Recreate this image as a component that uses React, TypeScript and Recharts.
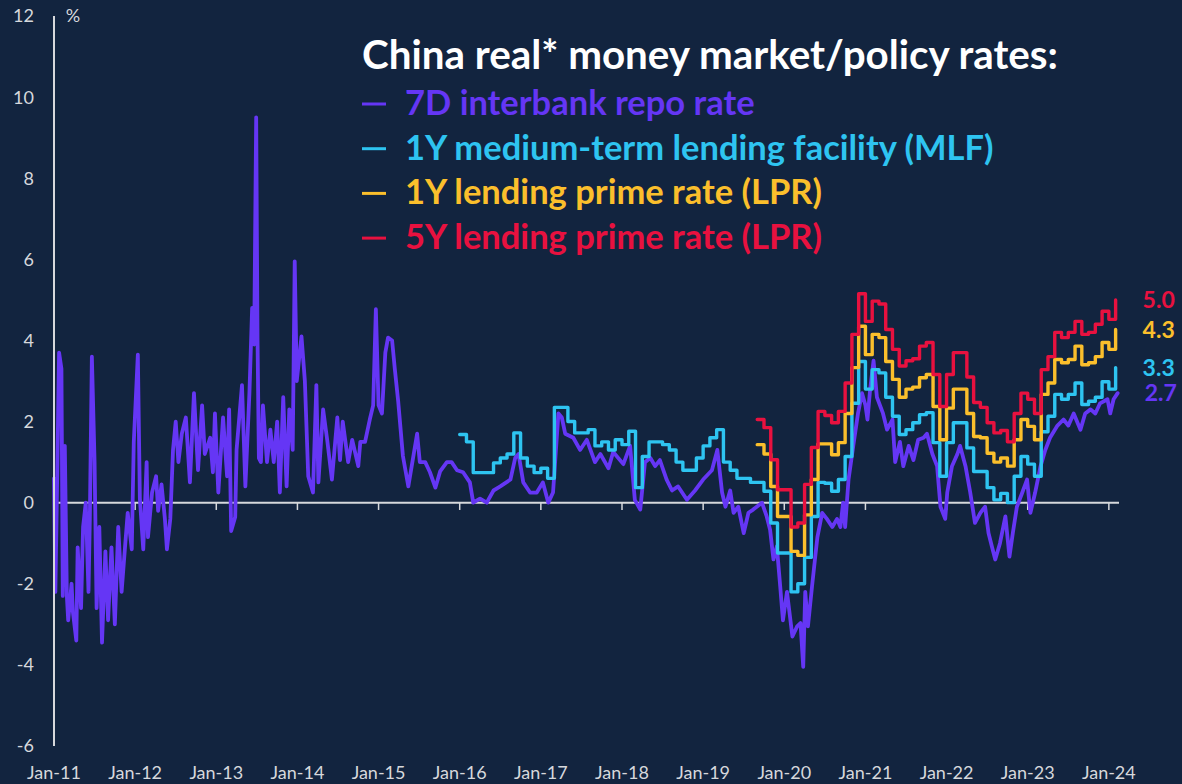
import React from "react";
import { LineChart, Line, XAxis, YAxis, ReferenceLine, Legend } from "recharts";

// x values are months since Jan-11
const YEAR_TICKS = [0, 12, 24, 36, 48, 60, 72, 84, 96, 108, 120, 132, 144, 156];
const Y_TICKS = [-6, -4, -2, 0, 2, 4, 6, 8, 10, 12];

// 7D interbank repo rate, real: [month, %]
const REPO: [number, number][] = [
  [0, 0.6], [0.2, -2.2], [0.45, 0.4], [0.75, 3.7], [1.1, 3.3], [1.3, -2.3], [1.6, 1.4], [1.9, -2.3],
  [2.1, -2.9], [2.6, -2.0], [2.8, -2.7], [3.3, -3.4], [3.5, -1.1], [4.0, -2.6], [4.3, -0.6], [4.7, 0.0],
  [5.1, -2.2], [5.3, -0.4], [5.6, 3.6], [6.0, 1.0], [6.3, -2.6], [6.7, -0.6], [7.1, -3.45], [7.6, -1.2],
  [8.0, -2.9], [8.5, -1.1], [9.0, -3.0], [9.5, -0.6], [10.0, -2.2], [10.5, -1.1], [10.9, -0.25], [11.5, -1.15],
  [11.8, 1.5], [12.4, 3.65], [12.7, 0.1], [13.2, -1.15], [13.7, 1.0], [13.9, -0.85], [14.5, 0.25], [15.1, 0.65],
  [15.4, -0.2], [15.9, 0.45], [16.4, -0.4], [16.7, -1.15], [17.2, -0.4], [17.6, 1.3], [18.0, 2.0], [18.4, 1.0],
  [18.9, 1.7], [19.5, 2.1], [20.1, 0.5], [20.7, 2.7], [21.3, 0.8], [21.9, 2.4], [22.3, 1.2], [23.1, 1.6],
  [23.5, 0.75], [23.8, 2.2], [24.3, 0.25], [25.0, 2.1], [25.6, 0.65], [25.9, 2.3], [26.2, -0.7], [26.8, -0.35],
  [27.0, 1.3], [27.8, 2.9], [28.3, 0.4], [28.9, 2.7], [29.3, 4.8], [29.6, 3.9], [29.9, 9.5], [30.1, 4.0],
  [30.3, 1.1], [30.6, 1.0], [30.9, 2.4], [31.5, 1.0], [32.0, 1.8], [32.5, 1.0], [33.0, 2.0], [33.4, 0.25],
  [33.9, 2.6], [34.4, 0.4], [34.8, 2.3], [35.3, 1.3], [35.6, 5.95], [35.9, 3.0], [36.6, 4.1], [37.1, 3.0],
  [37.6, 0.65], [38.3, 0.25], [38.8, 2.9], [39.1, 0.5], [39.8, 2.3], [40.4, 1.55], [41.1, 0.57], [41.9, 2.1],
  [42.3, 1.05], [42.7, 2.0], [43.5, 1.0], [44.1, 1.55], [45.0, 0.9], [45.3, 1.5], [46.0, 1.5], [46.7, 2.05],
  [47.2, 2.4], [47.6, 4.77], [48.0, 2.4], [48.5, 2.2], [49.0, 3.7], [49.4, 4.07], [50.0, 4.0], [50.4, 3.3],
  [50.9, 2.5], [51.6, 1.15], [52.4, 0.4], [52.9, 0.9], [53.7, 1.7], [54.1, 1.0], [54.9, 1.0], [55.6, 0.75],
  [56.4, 0.37], [57.1, 0.77], [58.1, 1.0], [58.8, 1.0], [59.6, 0.8], [60.5, 0.75], [61.5, 0.5], [62.0, 0.0],
  [63.0, 0.1], [64.0, 0.0], [65.0, 0.3], [66.0, 0.4], [67.5, 0.57], [68.2, 1.1], [68.7, 1.2], [69.4, 0.5],
  [70.4, 0.25], [71.4, 0.25], [72.3, 0.5], [73.1, 0.0], [73.8, 0.25], [74.6, 2.2], [75.1, 2.1], [75.6, 1.7],
  [76.8, 1.6], [77.8, 1.3], [78.8, 1.55], [80.0, 1.0], [80.8, 1.2], [82.0, 0.85], [82.7, 1.25], [84.2, 0.95],
  [85.2, 1.4], [85.9, 0.07], [86.7, -0.17], [87.4, 1.0], [88.2, 1.1], [88.9, 0.9], [89.6, 1.05], [90.6, 0.57],
  [91.4, 0.3], [92.3, 0.4], [93.6, 0.07], [94.8, 0.3], [96.0, 0.57], [97.3, 0.8], [98.1, 1.3], [98.8, 0.25],
  [99.3, -0.1], [100.0, 0.3], [100.5, -0.25], [101.2, -0.1], [102.0, -0.75], [102.7, -0.25], [103.4, -0.17], [104.7, 0.0],
  [105.4, -0.34], [105.9, -0.67], [106.4, -1.4], [106.9, -1.08], [107.4, -2.07], [107.8, -2.9], [108.4, -2.2], [109.2, -3.3],
  [109.9, -3.05], [110.4, -2.97], [110.8, -4.05], [111.1, -2.2], [111.5, -3.05], [112.1, -2.07], [112.6, -1.3], [112.9, -0.85],
  [113.6, -0.25], [114.3, -0.4], [115.1, -0.6], [115.8, -0.4], [116.3, -0.6], [116.7, 0.0], [117.0, -0.6], [117.5, 0.57],
  [118.2, 1.4], [118.9, 2.2], [119.5, 2.7], [120.0, 2.4], [120.3, 2.05], [120.7, 2.8], [121.2, 3.5], [121.7, 2.6],
  [122.6, 2.2], [123.2, 1.8], [124.0, 2.05], [124.4, 1.0], [125.1, 1.5], [125.6, 0.9], [126.4, 1.4], [127.1, 1.05],
  [127.8, 1.55], [128.6, 1.6], [129.1, 1.7], [129.9, 1.2], [130.6, 0.9], [131.1, -0.1], [131.8, -0.4], [132.1, 0.25],
  [132.8, 0.9], [133.6, 1.2], [134.0, 1.4], [134.8, 0.9], [135.5, 0.25], [136.2, -0.5], [137.0, -0.25], [137.7, -0.1],
  [138.2, -0.75], [138.7, -1.08], [139.2, -1.4], [139.9, -1.0], [140.7, -0.34], [141.3, -1.33], [141.8, -0.75], [142.4, -0.1],
  [143.2, 0.25], [143.9, 0.57], [144.4, -0.25], [145.1, 0.25], [145.9, 0.9], [146.6, 1.3], [147.3, 1.6], [148.4, 1.9],
  [149.3, 2.05], [150.0, 1.9], [150.8, 2.2], [151.8, 1.8], [152.5, 2.2], [153.3, 2.3], [154.0, 2.2], [154.7, 2.45],
  [155.8, 2.55], [156.2, 2.2], [156.7, 2.55], [157.3, 2.7],
];

// monthly step series
const MLF_START = 60; // Jan-16
const MLF = [
  1.68, 1.5, 0.74, 0.74, 0.74, 0.98, 1.1, 1.2, 1.72, 1.1, 0.9, 0.74,
  0.85, 0.6, 2.35, 2.35, 2.0, 1.72, 1.72, 1.8, 1.4, 1.5, 1.3, 1.55,
  1.43, 1.76, 0.37, 1.14, 1.5, 1.5, 1.43, 1.3, 1.0, 0.8, 0.8, 1.1,
  1.4, 1.6, 1.8, 1.0, 0.8, 0.6, 0.6, 0.5, 0.5, 0.28, -0.5, -1.24,
  -1.24, -2.2, -2.0, -1.35, -0.34, 0.5, 0.48, 0.28, 0.57, 1.14, 2.45, 3.48,
  2.8, 3.28, 3.2, 2.6, 2.13, 1.68, 1.8, 1.97, 2.17, 2.22, 1.48, 0.65,
  1.48, 1.97, 1.97, 1.35, 0.77, 0.77, 0.37, 0.07, 0.23, 0.0, 0.65, 1.14,
  0.95, 0.65, 1.75, 2.13, 2.67, 2.55, 2.67, 2.95, 2.42, 2.5, 2.6, 2.98,
  2.8, 3.33,
];

const LPR_START = 104; // Sep-19
const LPR1Y = [
  1.43, 1.2, 0.4, -0.34,
  -0.34, -1.2, -1.3, -0.3, 0.57, 1.45, 1.45, 1.18, 1.48, 2.2, 3.33, 4.35,
  3.65, 4.15, 4.07, 3.48, 3.04, 2.6, 2.8, 2.85, 3.08, 3.16, 2.37, 1.55,
  2.33, 2.8, 2.8, 2.2, 1.63, 1.6, 1.22, 1.0, 1.1, 0.9, 1.55, 2.05,
  1.88, 1.55, 2.67, 2.95, 3.53, 3.45, 3.53, 3.86, 3.4, 3.45, 3.6, 3.95,
  3.78, 4.27,
];
const LPR5Y = [
  2.05, 1.85, 1.06, 0.32,
  0.32, -0.6, -0.5, 0.45, 1.36, 2.25, 2.15, 1.97, 2.25, 2.95, 4.15, 5.15,
  4.47, 4.97, 4.9, 4.27, 3.78, 3.37, 3.5, 3.55, 3.86, 3.95, 3.16, 2.37,
  3.16, 3.7, 3.7, 3.1, 2.47, 2.35, 1.97, 1.72, 1.78, 1.5, 2.2, 2.7,
  2.55, 2.2, 3.28, 3.6, 4.2, 4.07, 4.2, 4.47, 4.15, 4.2, 4.4, 4.72,
  4.52, 5.0,
];

const TITLE = "China real* money market/policy rates:";
const BG = "#12243f";
const AXIS = "#d6d8dc";
const FONT = "Lato, 'Open Sans', sans-serif";

const monthly = (start: number, vals: number[]) => vals.map((v, i) => ({ m: start + i, v }));

const SERIES = [
  { name: "7D interbank repo rate", color: "#6536f5", type: "linear", width: 3.8, data: REPO.map(([m, v]) => ({ m, v })) },
  { name: "1Y medium-term lending facility (MLF)", color: "#2ec4f1", type: "stepAfter", width: 3.4, data: monthly(MLF_START, MLF) },
  { name: "1Y lending prime rate (LPR)", color: "#fbbf2c", type: "stepAfter", width: 3.4, data: monthly(LPR_START, LPR1Y) },
  { name: "5Y lending prime rate (LPR)", color: "#e8113f", type: "stepAfter", width: 3.4, data: monthly(LPR_START, LPR5Y) },
];
const ORDER = SERIES.map((s) => s.name);

const endLabel = (color: string, last: number) => (props: any) => {
  const { x, y, index, value } = props;
  if (index !== last) return null;
  return (
    <text x={x + 27} y={y} dy="0.35em" fill={color} fontSize={23} fontWeight={700} fontFamily={FONT}>
      {Number(value).toFixed(1)}
    </text>
  );
};

const renderLegend = ({ payload }: any) => {
  const items = [...(payload || [])].sort((a: any, b: any) => ORDER.indexOf(a.value) - ORDER.indexOf(b.value));
  return (
    <svg width={760} height={270} style={{ display: "block", overflow: "visible" }}>
      <text x={7} y={49} fill="#ffffff" fontSize={40} fontWeight={700} fontFamily={FONT} textLength={696} lengthAdjust="spacingAndGlyphs">
        {TITLE}
      </text>
      {items.map((p: any, i: number) => {
        const base = 95 + i * 44.7;
        return (
          <g key={p.value}>
            <line x1={7} x2={31} y1={base - 11} y2={base - 11} stroke={p.color} strokeWidth={3} />
            <text x={50} y={base} fill={p.color} fontSize={34.5} fontWeight={700} fontFamily={FONT}>
              {p.value}
            </text>
          </g>
        );
      })}
    </svg>
  );
};

export default function App() {
  return (
    <div style={{ width: 1182, height: 784, background: BG }}>
      <style>{`body{margin:0;background:${BG};}`}</style>
      <LineChart width={1182} height={784} margin={{ top: 16, right: 63, bottom: 8, left: 0 }}>
        <XAxis
          type="number"
          dataKey="m"
          domain={[0, 157.5]}
          ticks={YEAR_TICKS}
          interval={0}
          tickFormatter={(m: number) => `Jan-${11 + m / 12}`}
          axisLine={false}
          tickLine={false}
          tickSize={6}
          tickMargin={14}
          height={30}
          tick={{ fill: AXIS, fontSize: 18, fontFamily: FONT }}
        />
        <YAxis
          type="number"
          domain={[-6, 12]}
          ticks={Y_TICKS}
          interval={0}
          width={54}
          axisLine={{ stroke: AXIS, strokeWidth: 2 }}
          tickLine={false}
          tickSize={6}
          tickMargin={14}
          tick={{ fill: AXIS, fontSize: 18, fontFamily: FONT }}
          label={{
            content: ({ viewBox }: any) => (
              <text x={viewBox.x + viewBox.width + 19} y={viewBox.y} dy="0.35em" textAnchor="middle" fill={AXIS} fontSize={18} fontFamily={FONT}>
                %
              </text>
            ),
          }}
        />
        <ReferenceLine y={0} stroke={AXIS} strokeWidth={2} />
        {YEAR_TICKS.map((m) => (
          <ReferenceLine
            key={`tick-${m}`}
            segment={[{ x: m, y: 0 }, { x: m, y: -0.18 }]}
            stroke={AXIS}
            strokeWidth={1.5}
          />
        ))}
        <Legend
          layout="vertical"
          align="center"
          verticalAlign="middle"
          content={renderLegend}
          wrapperStyle={{ left: 355, top: 20, width: 760, height: 270 }}
        />
        {SERIES.map((s) => (
          <Line
            key={s.name}
            name={s.name}
            data={s.data}
            dataKey="v"
            type={s.type as any}
            stroke={s.color}
            strokeWidth={s.width}
            strokeLinejoin="round"
            strokeLinecap="round"
            dot={false}
            activeDot={false}
            isAnimationActive={false}
            label={endLabel(s.color, s.data.length - 1)}
          />
        ))}
      </LineChart>
    </div>
  );
}
